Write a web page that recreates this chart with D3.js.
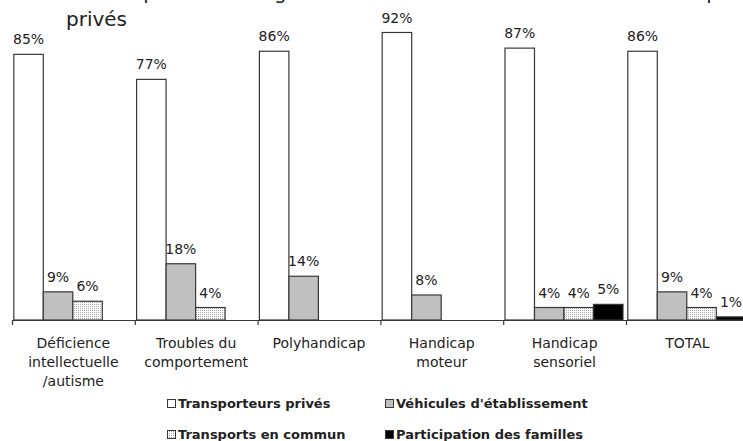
<!DOCTYPE html>
<html>
<head>
<meta charset="utf-8">
<script src="https://cdn.jsdelivr.net/npm/d3@7"></script>
<style>
  body { margin: 0; background: #fff; }
  text { font-family: 'DejaVu Sans', Verdana, sans-serif; fill: #222; }
</style>
</head>
<body>
<div id="chart"></div>
<script>
const categories = [
  ['Déficience', 'intellectuelle', '/autisme'],
  ['Troubles du', 'comportement'],
  ['Polyhandicap'],
  ['Handicap', 'moteur'],
  ['Handicap', 'sensoriel'],
  ['TOTAL'],
];
const seriesNames = [
  'Transporteurs privés',
  "Véhicules d'établissement",
  'Transports en commun',
  'Participation des familles',
];
const transporteurs = [85, 77, 86, 92, 87, 86];
const vehicules = [9, 18, 14, 8, 4, 9];
const communs = [6, 4, 0, 0, 4, 4];
const familles = [0, 0, 0, 0, 5, 1];
const titleLines = [
  'Part de prise en charge des enfants accueillis en établissement par les transporteurs',
  'privés',
];

const w = 743;
const h = 441;
const baseY = 320;
const fills = ['#ffffff', '#c0c0c0', 'url(#dots)', '#000000'];
const values = [transporteurs, vehicules, communs, familles];

const svg = d3
  .select('#chart')
  .append('svg')
  .attr('width', w)
  .attr('height', h);

// fine dotted fill for "transports en commun"
const pat = svg
  .append('defs')
  .append('pattern')
  .attr('id', 'dots')
  .attr('width', 2)
  .attr('height', 2)
  .attr('patternUnits', 'userSpaceOnUse');
pat.append('rect').attr('width', 2).attr('height', 2).attr('fill', '#fff');
pat.append('rect').attr('width', 1).attr('height', 1).attr('fill', '#a8a8a8');

const catKeys = categories.map(c => c.join(' '));
const x0 = d3
  .scaleBand()
  .domain(catKeys)
  .range([12, 12 + 6 * 122.8]);
const x1 = d3
  .scaleBand()
  .domain(seriesNames)
  .range([1.8, 119.8]);
const y = d3
  .scaleLinear()
  .domain([0, 100])
  .range([baseY, 7.5]);

// title (first line runs off the top of the frame, as in the source)
svg
  .append('g')
  .selectAll('text')
  .data(titleLines)
  .enter()
  .append('text')
  .attr('x', 66)
  .attr('y', (d, i) => -1.5 + i * 27.5)
  .style('font-size', '20px')
  .text(d => d);

const rows = [];
catKeys.forEach((c, ci) =>
  seriesNames.forEach((s, si) =>
    rows.push({ cat: c, series: s, si: si, v: values[si][ci] }),
  ),
);
const shown = rows.filter(d => d.v > 0);

svg
  .append('g')
  .selectAll('rect')
  .data(shown)
  .enter()
  .append('rect')
  .attr('x', d => x0(d.cat) + x1(d.series))
  .attr('y', d => y(d.v))
  .attr('width', x1.bandwidth())
  .attr('height', d => baseY - y(d.v))
  .attr('fill', d => fills[d.si])
  .attr('stroke', '#383838')
  .attr('stroke-width', 1.2);

svg
  .append('g')
  .selectAll('text')
  .data(shown)
  .enter()
  .append('text')
  .attr('x', d => x0(d.cat) + x1(d.series) + x1.bandwidth() / 2)
  .attr('y', d => y(d.v) - 10)
  .attr('text-anchor', 'middle')
  .style('font-size', '14px')
  .text(d => d.v + '%');

// x axis: line + ticks at category boundaries
const xAxis = d3
  .axisBottom(d3.scaleLinear().domain([0, 6]).range(x0.range()))
  .tickValues(d3.range(6))
  .tickSize(5)
  .tickSizeOuter(0)
  .tickFormat('');
const ax = svg
  .append('g')
  .attr('transform', 'translate(0,' + baseY + ')')
  .call(xAxis);
ax.select('.domain').attr('stroke', '#383838').attr('stroke-width', 1.2);
ax.selectAll('.tick line').attr('stroke', '#383838').attr('stroke-width', 1.2);

// category labels
const cat = svg
  .append('g')
  .selectAll('text')
  .data(categories)
  .enter()
  .append('text')
  .attr('text-anchor', 'middle')
  .style('font-size', '14px');
cat
  .selectAll('tspan')
  .data((d, i) => d.map(t => ({ t: t, k: catKeys[i] })))
  .enter()
  .append('tspan')
  .attr('x', d => x0(d.k) + x0.bandwidth() / 2)
  .attr('y', (d, i) => 348 + i * 19)
  .text(d => d.t);

// legend
const legPos = [[167, 408], [385, 408], [167, 439], [385, 439]];
const leg = svg
  .append('g')
  .selectAll('g')
  .data(seriesNames)
  .enter()
  .append('g')
  .attr('transform', (d, i) => 'translate(' + legPos[i][0] + ',' + legPos[i][1] + ')');
leg
  .append('rect')
  .attr('x', 0.5)
  .attr('y', -8.5)
  .attr('width', 8)
  .attr('height', 8)
  .attr('fill', (d, i) => fills[i])
  .attr('stroke', '#383838')
  .attr('stroke-width', 1);
leg
  .append('text')
  .attr('x', 11)
  .attr('y', 0)
  .style('font-size', '13px')
  .style('font-weight', 'bold')
  .text(d => d);
</script>
</body>
</html>
